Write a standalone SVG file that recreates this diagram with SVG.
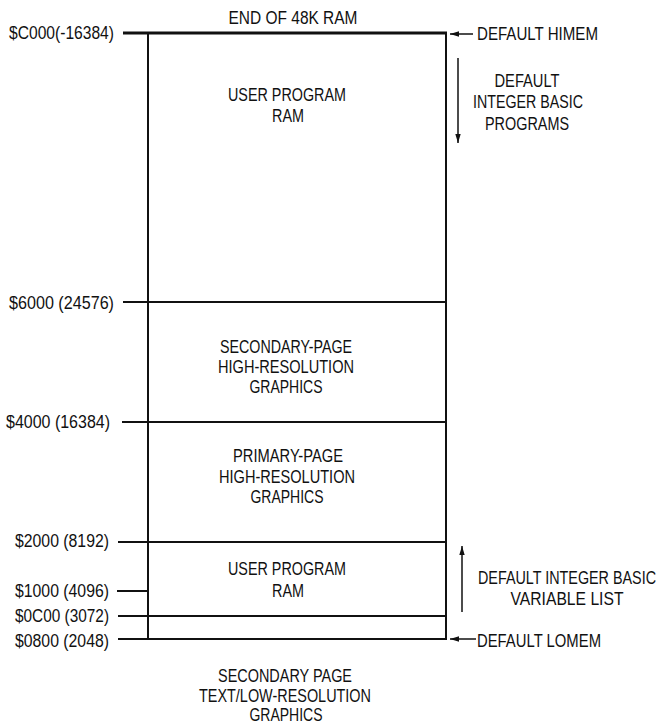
<svg xmlns="http://www.w3.org/2000/svg" width="665" height="725" viewBox="0 0 665 725">
  <style>
    text { font-family: "Liberation Sans Narrow", "Liberation Sans", Arial, sans-serif; font-size: 18px; fill: #111; }
    .c { text-anchor: middle; }
    .ln { stroke: #111; stroke-width: 2; fill: none; }
    .top { stroke: #111; stroke-width: 3; fill: none; }
    .arr { stroke: #111; stroke-width: 1.5; fill: none; }
  </style>
  <defs>
    <marker id="head" viewBox="0 0 10 10" refX="10" refY="5" markerWidth="9" markerHeight="9" markerUnits="userSpaceOnUse" orient="auto">
      <path d="M0,2 L10,5 L0,8 Z" fill="#111"/>
    </marker>
  </defs>
  <rect width="665" height="725" fill="#fff"/>

  <!-- memory map frame and boundaries -->
  <g id="memory-map">
    <line class="top" x1="123" y1="33" x2="447" y2="33"/>
    <line class="ln" x1="148" y1="33" x2="148" y2="640"/>
    <line class="ln" x1="446" y1="33" x2="446" y2="640"/>
    <line class="ln" x1="123" y1="302" x2="446" y2="302"/>
    <line class="ln" x1="122" y1="422" x2="446" y2="422"/>
    <line class="ln" x1="118" y1="542" x2="446" y2="542"/>
    <line class="ln" x1="117" y1="591" x2="148" y2="591"/>
    <line class="ln" x1="118" y1="616" x2="446" y2="616"/>
    <line class="ln" x1="118" y1="639" x2="446" y2="639"/>
  </g>

  <!-- address labels -->
  <g id="addresses">
    <text x="9" y="39" textLength="105" lengthAdjust="spacingAndGlyphs">$C000(-16384)</text>
    <text x="9" y="309" textLength="105" lengthAdjust="spacingAndGlyphs">$6000 (24576)</text>
    <text x="6" y="428" textLength="104" lengthAdjust="spacingAndGlyphs">$4000 (16384)</text>
    <text x="15" y="547" textLength="94" lengthAdjust="spacingAndGlyphs">$2000 (8192)</text>
    <text x="15" y="597" textLength="94" lengthAdjust="spacingAndGlyphs">$1000 (4096)</text>
    <text x="15" y="622" textLength="94" lengthAdjust="spacingAndGlyphs">$0C00 (3072)</text>
    <text x="15" y="647" textLength="94" lengthAdjust="spacingAndGlyphs">$0800 (2048)</text>
  </g>

  <g id="end-of-ram">
    <text class="c" x="293" y="24" textLength="129" lengthAdjust="spacingAndGlyphs">END OF 48K RAM</text>
  </g>

  <g id="user-ram-high">
    <text class="c" x="287" y="101" textLength="118" lengthAdjust="spacingAndGlyphs">USER PROGRAM</text>
    <text class="c" x="288" y="122" textLength="32" lengthAdjust="spacingAndGlyphs">RAM</text>
  </g>

  <g id="hires-page2">
    <text class="c" x="286" y="353" textLength="132" lengthAdjust="spacingAndGlyphs">SECONDARY-PAGE</text>
    <text class="c" x="286" y="373" textLength="136" lengthAdjust="spacingAndGlyphs">HIGH-RESOLUTION</text>
    <text class="c" x="286" y="393" textLength="73" lengthAdjust="spacingAndGlyphs">GRAPHICS</text>
  </g>

  <g id="hires-page1">
    <text class="c" x="288" y="462" textLength="110" lengthAdjust="spacingAndGlyphs">PRIMARY-PAGE</text>
    <text class="c" x="287" y="483" textLength="136" lengthAdjust="spacingAndGlyphs">HIGH-RESOLUTION</text>
    <text class="c" x="287" y="503" textLength="73" lengthAdjust="spacingAndGlyphs">GRAPHICS</text>
  </g>

  <g id="user-ram-low">
    <text class="c" x="287" y="575" textLength="118" lengthAdjust="spacingAndGlyphs">USER PROGRAM</text>
    <text class="c" x="288" y="597" textLength="32" lengthAdjust="spacingAndGlyphs">RAM</text>
  </g>

  <g id="text-page2">
    <text class="c" x="285" y="682" textLength="134" lengthAdjust="spacingAndGlyphs">SECONDARY PAGE</text>
    <text class="c" x="285" y="702" textLength="172" lengthAdjust="spacingAndGlyphs">TEXT/LOW-RESOLUTION</text>
    <text class="c" x="286" y="721" textLength="73" lengthAdjust="spacingAndGlyphs">GRAPHICS</text>
  </g>

  <g id="himem">
    <text x="477" y="40" textLength="121" lengthAdjust="spacingAndGlyphs">DEFAULT HIMEM</text>
  </g>

  <g id="basic-programs">
    <text class="c" x="527" y="87" textLength="65" lengthAdjust="spacingAndGlyphs">DEFAULT</text>
    <text class="c" x="528" y="108" textLength="110" lengthAdjust="spacingAndGlyphs">INTEGER BASIC</text>
    <text class="c" x="527" y="130" textLength="84" lengthAdjust="spacingAndGlyphs">PROGRAMS</text>
  </g>

  <g id="variable-list">
    <text x="478" y="584" textLength="178" lengthAdjust="spacingAndGlyphs">DEFAULT INTEGER BASIC</text>
    <text class="c" x="567" y="605" textLength="113" lengthAdjust="spacingAndGlyphs">VARIABLE LIST</text>
  </g>

  <g id="lomem">
    <text x="477" y="647" textLength="124" lengthAdjust="spacingAndGlyphs">DEFAULT LOMEM</text>
  </g>

  <!-- pointer arrows -->
  <g id="connectors">
    <line class="arr" x1="473" y1="34" x2="450" y2="34" marker-end="url(#head)"/>
    <line class="arr" x1="458" y1="58" x2="458" y2="143" marker-end="url(#head)"/>
    <line class="arr" x1="462" y1="612" x2="462" y2="546" marker-end="url(#head)"/>
    <line class="arr" x1="476" y1="639" x2="450" y2="639" marker-end="url(#head)"/>
  </g>
</svg>
